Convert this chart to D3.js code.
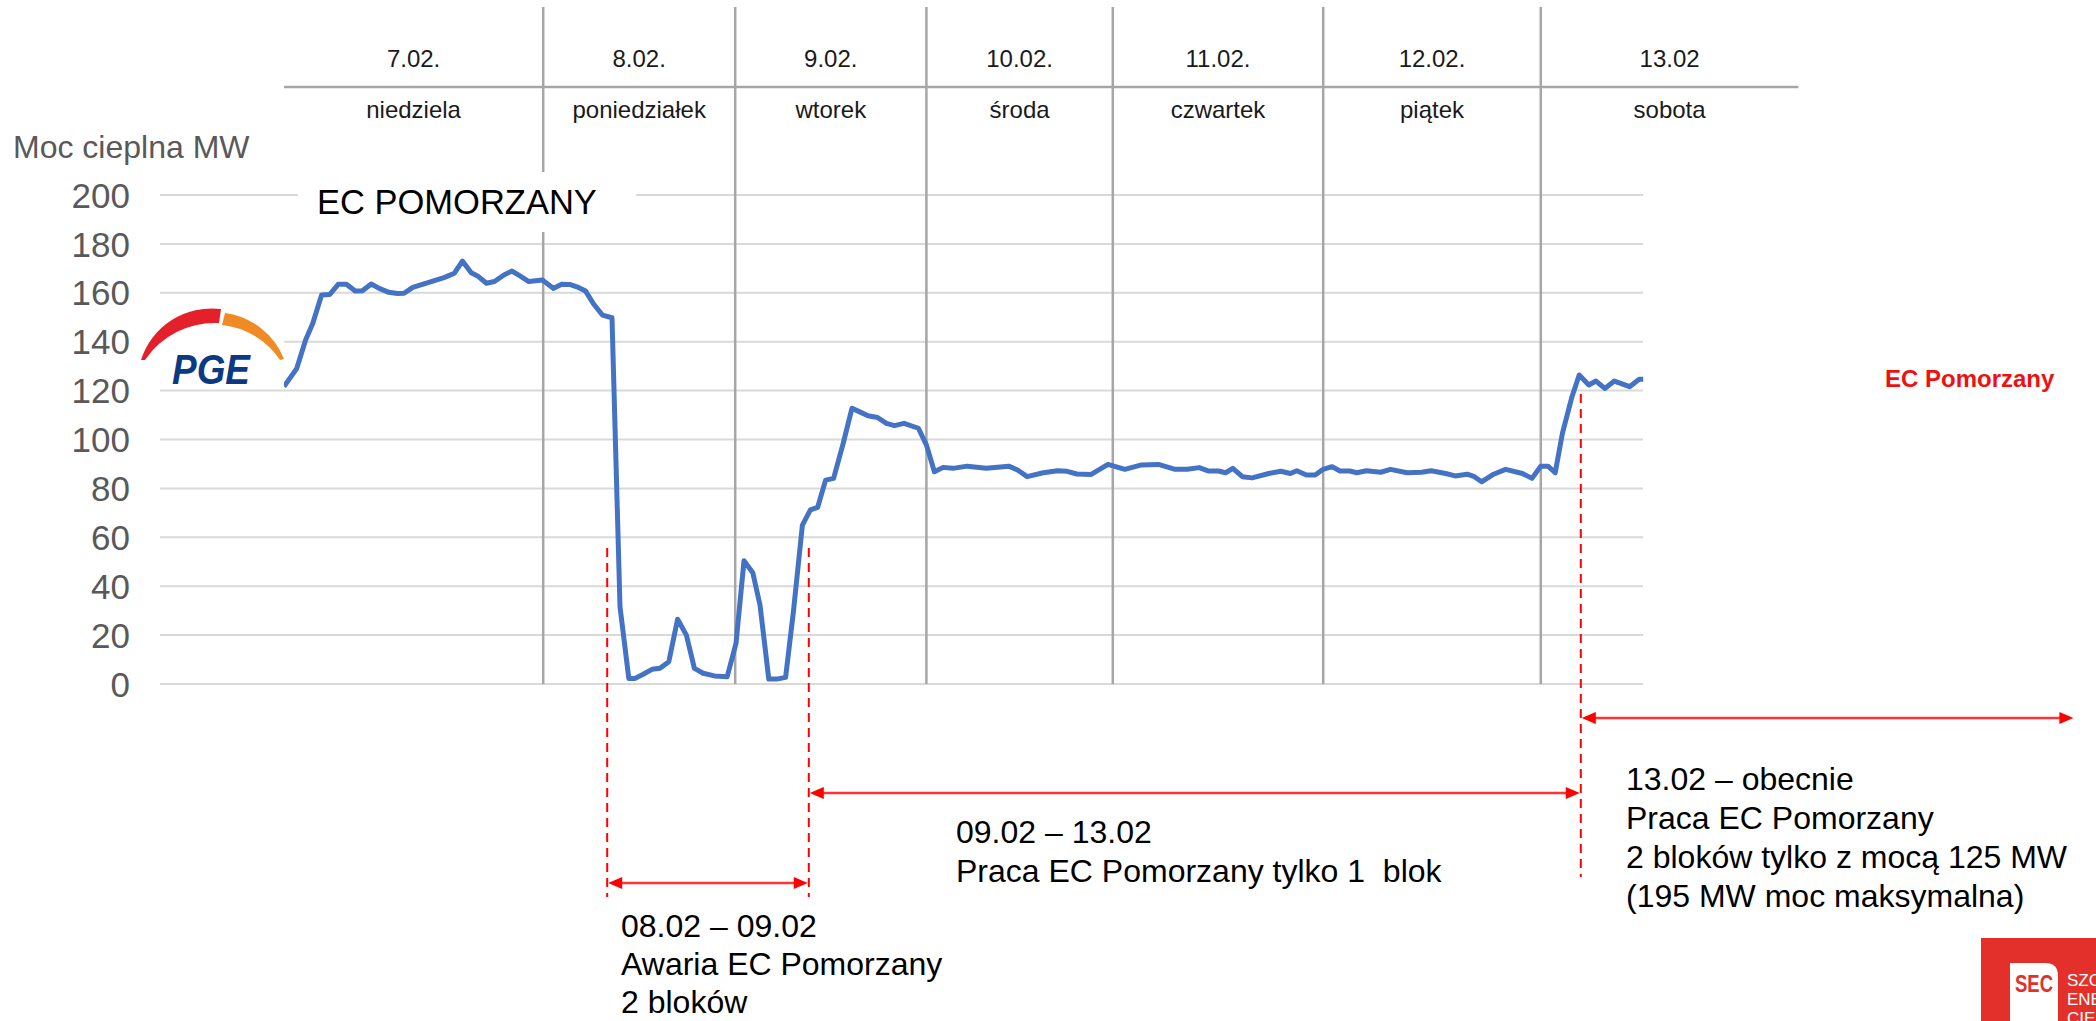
<!DOCTYPE html>
<html><head><meta charset="utf-8">
<script src="https://cdn.jsdelivr.net/npm/d3@7"></script>
<style>
body{margin:0;background:#fff}
svg{display:block}
text{font-family:"Liberation Sans",Arial,sans-serif}
</style>
</head><body>
<svg id="c" width="2096" height="1021"></svg>
<script>
// ---- data (hours since 7.02 00:00, thermal power MW) ----
const hours = [0,1.6,2.7,3.6,4.7,5.7,6.8,7.8,8.9,9.8,10.9,11.9,13.1,14.2,15,16.1,18.1,20,21.3,22.3,23.4,24.2,25.3,26.3,27.5,28.5,29.5,30.6,32.3,33.7,34.7,35.7,36.8,37.7,38.7,39.8,41,42,43.1,43.9,44.9,46,47,48.1,49.2,50.3,51.3,52.4,53.8,55.4,56.5,57.5,58.6,59.5,60.6,61.6,62.7,63.7,64.8,65.8,66.7,67.7,68.7,69.9,71,71.9,73,74.2,75.3,76.3,77.5,79.3,80.3,81.3,82.4,83.6,85.4,87.8,90.6,91.7,92.9,94.9,96.7,97.9,99.1,100.9,103,105.1,107.2,109.3,111.4,112.9,114.4,115.6,116.8,117.7,118.6,119.8,121,123.1,124.6,125.8,126.6,127.8,128.9,129.9,131,132,133.2,134.1,135.3,137.1,138.3,140.4,142.2,143.4,145.2,146.4,147.9,148.8,149.7,151.2,152.7,154.8,156,157.1,158,158.9,159.8,161,161.9,163.1,164,165.1,166.3,168.2,169.4,169.9];
const mw = [121.6,129.1,140.7,147.5,159.1,159.3,163.5,163.5,160.7,160.8,163.6,161.8,160.2,159.7,159.8,162.2,164.3,166.2,168,173,168.2,166.9,163.9,164.6,167.3,168.9,166.9,164.6,165.2,161.8,163.5,163.4,162.2,160.7,155.4,150.9,149.8,31.6,2.3,2.3,4,6,6.4,9.1,26.5,20,6.4,4.4,3.3,3,16.6,50.4,45.5,32.3,2,2,2.7,30.3,65,71.2,72.2,83.4,84.1,98.4,112.8,111.4,109.7,109,106.6,105.7,106.6,104.6,97.8,86.8,88.6,88.2,89.1,88.2,89.1,87.5,84.8,86.4,87.2,87,85.9,85.7,89.8,87.8,89.6,89.8,87.8,87.8,88.5,87.1,87.1,86.4,88.2,84.8,84.3,86.1,87,86.1,87.2,85.5,85.5,87.8,88.9,87.1,87.1,86.4,87.2,86.6,87.8,86.4,86.6,87.2,86.1,85.1,85.8,84.8,82.7,85.8,87.8,86.1,84.1,89.1,89.1,86.4,102.5,117.5,126.4,122.3,123.9,120.9,123.9,121.6,124.6,124.6];
const yTicks = [0,20,40,60,80,100,120,140,160,180,200];
const headerDates = ["7.02.","8.02.","9.02.","10.02.","11.02.","12.02.","13.02"];
const headerDays = ["niedziela","poniedziałek","wtorek","środa","czwartek","piątek","sobota"];
const headerBounds = [0,32.4,56.4,80.3,103.6,129.9,157.1,189.3];
const spanStart = [40.4,65.6,162.1];
const spanEnd = [65.6,162.1,223.8];
const noteLines = [
  ["08.02 – 09.02","Awaria EC Pomorzany","2 bloków"],
  ["09.02 – 13.02","Praca EC Pomorzany tylko 1  blok"],
  ["13.02 – obecnie","Praca EC Pomorzany","2 bloków tylko z mocą 125 MW","(195 MW moc maksymalna)"]
];

// ---- layout ----
const svg = d3.select("#c");
const x = d3.scaleLinear().domain([0,170]).range([284,1644]);
const y = d3.scaleLinear().domain([0,200]).range([684,195]);
const plotL = 160, plotR = 1643;

svg.append("rect").attr("width",2096).attr("height",1021).attr("fill","#fff");

// gridlines
svg.append("g").selectAll("line").data(yTicks).join("line")
  .attr("x1",plotL).attr("x2",plotR)
  .attr("y1",d=>y(d)).attr("y2",d=>y(d))
  .attr("stroke","#d9d9d9").attr("stroke-width",2);

// y tick labels
svg.append("g").selectAll("text").data(yTicks).join("text")
  .attr("x",130).attr("y",d=>y(d)).attr("dy","0.36em")
  .attr("text-anchor","end").attr("font-size",35).attr("fill","#595959")
  .text(d=>d);

svg.append("text").attr("x",13).attr("y",158).attr("font-size",32)
  .attr("fill","#595959").text("Moc cieplna MW");

// day separator lines (header + chart)
svg.append("g").selectAll("line").data(headerBounds.slice(1,-1)).join("line")
  .attr("x1",d=>x(d)).attr("x2",d=>x(d)).attr("y1",7).attr("y2",y(0))
  .attr("stroke","#a6a6a6").attr("stroke-width",2.5);
svg.append("line").attr("x1",x(headerBounds[0])).attr("x2",x(headerBounds[headerBounds.length-1]))
  .attr("y1",87).attr("y2",87).attr("stroke","#a6a6a6").attr("stroke-width",2.5);

const cols = headerDates.map((d,i)=>({date:d, day:headerDays[i], c:(x(headerBounds[i])+x(headerBounds[i+1]))/2}));
const hg = svg.append("g").attr("font-size",24).attr("fill","#1a1a1a").attr("text-anchor","middle");
hg.selectAll("text.d").data(cols).join("text").attr("class","d")
  .attr("x",d=>d.c).attr("y",67).text(d=>d.date);
hg.selectAll("text.w").data(cols).join("text").attr("class","w")
  .attr("x",d=>d.c).attr("y",118).text(d=>d.day);

// title box
svg.append("rect").attr("x",298).attr("y",172).attr("width",338).attr("height",60).attr("fill","#fff");
svg.append("text").attr("x",317).attr("y",214).attr("font-size",34.5).attr("fill","#000").text("EC POMORZANY");

// data line
const line = d3.line().x((d,i)=>x(hours[i])).y(d=>y(d));
svg.append("path").datum(mw).attr("d",line).attr("fill","none")
  .attr("stroke","#4472c4").attr("stroke-width",5).attr("stroke-linejoin","round");

// PGE logo
const pge = svg.append("g");
pge.append("rect").attr("x",138).attr("y",299).attr("width",146).attr("height",88).attr("fill","#fff");
pge.append("path").attr("d","M141,360 A74,74 0 0 1 221,309 L219,323 A84,84 0 0 0 145,360 Z").attr("fill","#e4202a");
pge.append("path").attr("d","M225,313 A74,74 0 0 1 284,359 L280,360 A80,80 0 0 0 222,325 Z").attr("fill","#f08a24");
pge.append("text").attr("x",172).attr("y",384).attr("font-size",42).attr("font-weight","bold")
  .attr("font-style","italic").attr("fill","#0b3a82").attr("textLength",78)
  .attr("lengthAdjust","spacingAndGlyphs").text("PGE");

// red series label
svg.append("text").attr("x",1885).attr("y",387).attr("font-size",24).attr("font-weight","bold")
  .attr("fill","#ee1111").text("EC Pomorzany");

// annotations: dashed markers
const red = "#ff0000";
const dash = [[spanStart[0],548,897],[spanEnd[0],548,897],[spanStart[2],394,877]];
svg.append("g").selectAll("line").data(dash).join("line")
  .attr("x1",d=>x(d[0])).attr("x2",d=>x(d[0])).attr("y1",d=>d[1]).attr("y2",d=>d[2])
  .attr("stroke",red).attr("stroke-width",2).attr("stroke-dasharray","9,6");

// arrows
const arrowY = [883,793,718];
const ag = svg.append("g");
spanStart.forEach((s,i)=>{
  const x1 = x(s)+1, x2 = x(spanEnd[i])-1, yy = arrowY[i];
  ag.append("line").attr("x1",x1+10).attr("x2",x2-10).attr("y1",yy).attr("y2",yy)
    .attr("stroke","#ff3333").attr("stroke-width",2.5);
  ag.append("path").attr("d",`M${x1},${yy} L${x1+14},${yy-6} L${x1+14},${yy+6} Z`).attr("fill",red);
  ag.append("path").attr("d",`M${x2},${yy} L${x2-14},${yy-6} L${x2-14},${yy+6} Z`).attr("fill",red);
});

// annotation texts
const notePos = [[621,937],[956,843],[1626,790]];
noteLines.forEach((ls,i)=>{
  svg.append("g").selectAll("text").data(ls).join("text")
    .attr("x",notePos[i][0]).attr("y",(d,j)=>notePos[i][1]+j*(i===0?38:39))
    .attr("font-size",32).attr("fill","#000").style("white-space","pre").text(d=>d);
});

// SEC logo
const sec = svg.append("g");
sec.append("rect").attr("x",1981).attr("y",938).attr("width",115).attr("height",83).attr("fill","#e3302a");
sec.append("path").attr("d","M2010,1021 L2010,963 L2045,963 Q2058,963 2058,976 L2058,1021 Z").attr("fill","#fff");
sec.append("text").attr("x",2015).attr("y",992).attr("font-size",24).attr("font-weight","bold")
  .attr("fill","#e3302a").attr("textLength",38).attr("lengthAdjust","spacingAndGlyphs").text("SEC");
sec.selectAll("text.s").data(["SZC","ENE","CIE"]).join("text").attr("class","s")
  .attr("x",2067).attr("y",(d,i)=>986+i*19).attr("font-size",17).attr("fill","#fff").text(d=>d);
</script>
</body></html>
